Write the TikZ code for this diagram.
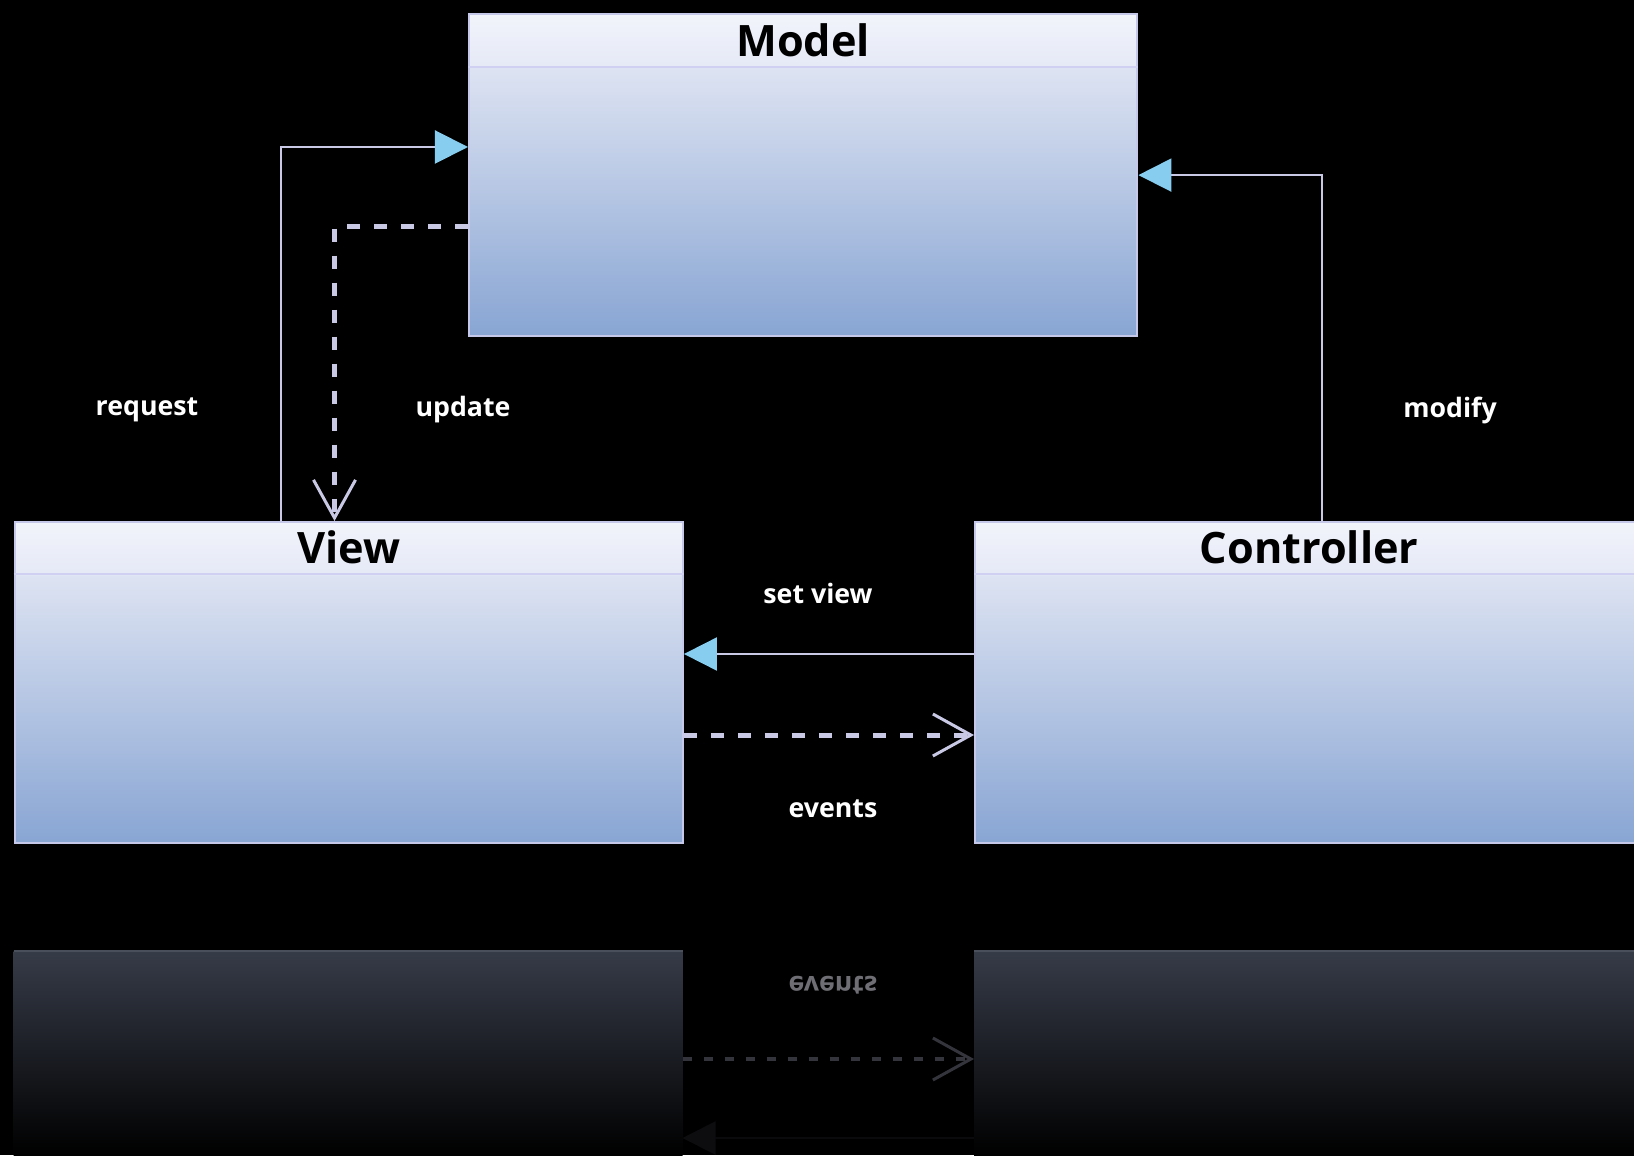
\documentclass[tikz,border=0pt]{standalone}
\usepackage{fontspec}
\setmainfont{Open Sans}
\usetikzlibrary{arrows.meta,positioning}

\definecolor{hdrtop}{HTML}{F2F4FB}
\definecolor{hdrbot}{HTML}{E5E9F6}
\definecolor{bodytop}{HTML}{DDE3F2}
\definecolor{bodybot}{HTML}{88A5D3}
\definecolor{boxedge}{HTML}{C6C8EA}
\definecolor{hdredge}{HTML}{CFD0F2}
\definecolor{linkcol}{HTML}{C9C9E6}
\definecolor{tipblue}{HTML}{86CDEF}
\definecolor{refltop}{HTML}{363B48}
\definecolor{reflmid}{HTML}{1A1C22}
\definecolor{refledge}{HTML}{4A4F5C}
\definecolor{refllink}{HTML}{34343C}
\definecolor{refltext}{HTML}{6E6E74}

% class box: light header band over a blue body
\pgfdeclareverticalshading{classfill}{100bp}{color(0bp)=(bodybot); color(25bp)=(bodybot);
  color(66.7bp)=(bodytop); color(66.8bp)=(hdrbot); color(75bp)=(hdrtop); color(100bp)=(hdrtop)}

\begin{document}
\begin{tikzpicture}[x=0.01cm,y=-0.01cm,
    classbox/.style={draw=boxedge,line width=0.02cm,shade,shading=classfill,
      minimum width=6.68cm,minimum height=3.21cm,inner sep=0pt,anchor=north west},
    classname/.style={font=\bfseries\fontsize{12.3}{14}\selectfont,text=black},
    hdrline/.style={draw=hdredge,line width=0.02cm},
    lbl/.style={font=\bfseries\fontsize{7.6}{9}\selectfont,text=white},
    assoc/.style={draw=linkcol,line width=0.02cm,
      -{Triangle[length=0.33cm,width=0.33cm,color=tipblue,fill=tipblue]}},
    dep/.style={draw=linkcol,line width=0.05cm,dash pattern=on 0.13cm off 0.14cm,
      -{Straight Barb[length=0.38cm,width=0.42cm,line width=0.03cm]}}]

    \useasboundingbox (0,0) rectangle (1634,1155);
    \clip (0,0) rectangle (1634,1155);
    \fill[black] (0,0) rectangle (1634,1155);

    % mirror image under the lower boxes
    \shade[top color=refltop,middle color=reflmid,bottom color=black] (13.5,951) rectangle (682.5,1155);
    \shade[top color=refltop,middle color=reflmid,bottom color=black] (974,951) rectangle (1660,1155);
    \draw[refledge,line width=0.02cm] (13.5,951) -- (682.5,951);
    \draw[refledge,line width=0.02cm] (974,951) -- (1660,951);
    \draw[dep,draw=refllink,line width=0.04cm,dash pattern=on 0.09cm off 0.12cm] (682.5,1059) -- (974,1059);
    \draw[draw=black!80!refllink,line width=0.02cm,
      -{Triangle[length=0.33cm,width=0.33cm,color=black!75!refllink,fill=black!75!refllink]}]
      (974,1138) -- (682.5,1138);
    \node[lbl,text=refltext,yscale=-1] (events-m) at (833,985) {events};

    % classes
    \node[classbox] (model) at (468,13.5) {};
    \node[classbox] (view) at (13.5,521) {};
    \node[classbox] (ctrl) at (974,521) {};

    \draw[hdrline] ([yshift=-0.53cm]model.north west) -- ([yshift=-0.53cm]model.north east);
    \draw[hdrline] ([yshift=-0.53cm]view.north west) -- ([yshift=-0.53cm]view.north east);
    \draw[hdrline] ([yshift=-0.53cm]ctrl.north west) -- ([yshift=-0.53cm]ctrl.north east);

    \node[classname] (model-name) at ([yshift=-0.265cm]model.north) {Model};
    \node[classname] (view-name) at ([yshift=-0.265cm]view.north) {View};
    \node[classname] (ctrl-name) at ([yshift=-0.265cm]ctrl.north) {Controller};

    % bend points of the links
    \coordinate (req) at (281,147);
    \coordinate (upd) at (334.5,227);
    \coordinate (mod) at (1322,174);
    \coordinate (sv) at (0,654);
    \coordinate (ev) at (0,735);

    \draw[assoc] (view.north -| req) |- (req -| model.west);
    \draw[dep] (upd -| model.west) -| (view.north -| upd);
    \draw[assoc] (ctrl.north -| mod) |- (model.east);
    \draw[assoc] (sv -| ctrl.west) -- (sv -| view.east);
    \draw[dep] (ev -| view.east) -- (ev -| ctrl.west);

    \node[lbl] (request) at (147,410) {request};
    \node[lbl] (update) at (463,410) {update};
    \node[lbl] (modify) at (1450,410) {modify};
    \node[lbl] (setview) at (818,593) {set view};
    \node[lbl] (events) at (833,809) {events};
\end{tikzpicture}
\end{document}
